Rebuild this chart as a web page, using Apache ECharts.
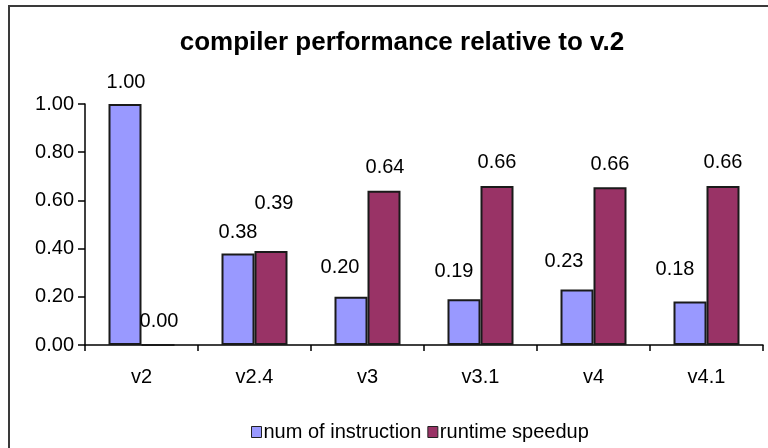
<!DOCTYPE html>
<html>
<head>
<meta charset="utf-8">
<script src="https://cdn.jsdelivr.net/npm/echarts@6/dist/echarts.min.js"></script>
<style>
  html, body { margin: 0; padding: 0; background: #fff; }
  #chart { width: 768px; height: 448px; }
</style>
</head>
<body>
<div id="chart"></div>
<script>
const versions = ['v2', 'v2.4', 'v3', 'v3.1', 'v4', 'v4.1'];
const numOfInstruction = [1.00, 0.38, 0.20, 0.19, 0.23, 0.18];
const runtimeSpeedup = [0.00, 0.39, 0.64, 0.66, 0.655, 0.66];
const yTicks = [0, 0.2, 0.4, 0.6, 0.8, 1.0];

// label nudges, the way Excel left them
const instLabelShift = [[1, -7], [0, -6], [-11, -14], [-10, -13], [-13, -13], [-15, -17]];
const speedLabelShift = [[1, -8], [3, -33], [1, -8], [0, -8], [0, -8], [0, -8]];

const font = 'Liberation Sans, Arial, sans-serif';

function withLabels(values, shifts) {
  return values.map((v, i) => ({
    value: v,
    label: { offset: shifts[i] },
  }));
}

const chart = echarts.init(document.getElementById('chart'), null, { renderer: 'canvas' });

const labelStyle = {
  show: true,
  position: 'top',
  distance: 5,
  color: '#000',
  fontSize: 20,
  fontFamily: font,
  formatter: (p) => p.value.toFixed(2),
};

chart.setOption({
  animation: false,
  textStyle: { fontFamily: font },
  title: {
    text: 'compiler performance relative to v.2',
    left: 397,
    top: 25,
    textAlign: 'center',
    textStyle: { fontSize: 26, fontWeight: 'bold', color: '#000', fontFamily: font },
  },
  graphic: [
    {
      type: 'rect',
      shape: { x: 9, y: 6, width: 820, height: 520 },
      style: { fill: 'none', stroke: '#3a3a3a', lineWidth: 2 },
      silent: true,
    },
  ],
  legend: {
    left: 246,
    top: 417,
    icon: 'rect',
    itemWidth: 10,
    itemHeight: 11,
    itemGap: 6,
    textStyle: { fontSize: 20, color: '#000', fontFamily: font, padding: [0, 0, 0, -3] },
    itemStyle: { borderColor: '#222', borderWidth: 1 },
    data: ['num of instruction', 'runtime speedup'],
  },
  grid: { left: 85, right: 5, top: 104, bottom: 103, containLabel: false },
  xAxis: {
    type: 'category',
    data: versions,
    axisLine: { lineStyle: { color: '#000', width: 1.5 } },
    axisTick: { show: true, length: 6, lineStyle: { color: '#000', width: 1.5 } },
    axisLabel: { color: '#000', fontSize: 20, margin: 22, fontFamily: font },
  },
  yAxis: {
    type: 'value',
    min: yTicks[0],
    max: yTicks[yTicks.length - 1],
    interval: 0.2,
    axisLine: { show: true, lineStyle: { color: '#000', width: 1.5 } },
    axisTick: { show: true, length: 7, lineStyle: { color: '#000', width: 1.5 } },
    axisLabel: {
      color: '#000',
      fontSize: 20,
      margin: 11,
      fontFamily: font,
      formatter: (v) => v.toFixed(2),
    },
    splitLine: { show: false },
  },
  series: [
    {
      name: 'num of instruction',
      type: 'bar',
      barWidth: 33,
      barGap: 0,
      itemStyle: { color: '#9999FF', borderColor: '#1a1a1a', borderWidth: 2 },
      label: labelStyle,
      data: withLabels(numOfInstruction, instLabelShift),
    },
    {
      name: 'runtime speedup',
      type: 'bar',
      barWidth: 33,
      barGap: 0,
      itemStyle: { color: '#993366', borderColor: '#1a1a1a', borderWidth: 2 },
      label: labelStyle,
      data: withLabels(runtimeSpeedup, speedLabelShift),
    },
  ],
});
</script>
</body>
</html>
